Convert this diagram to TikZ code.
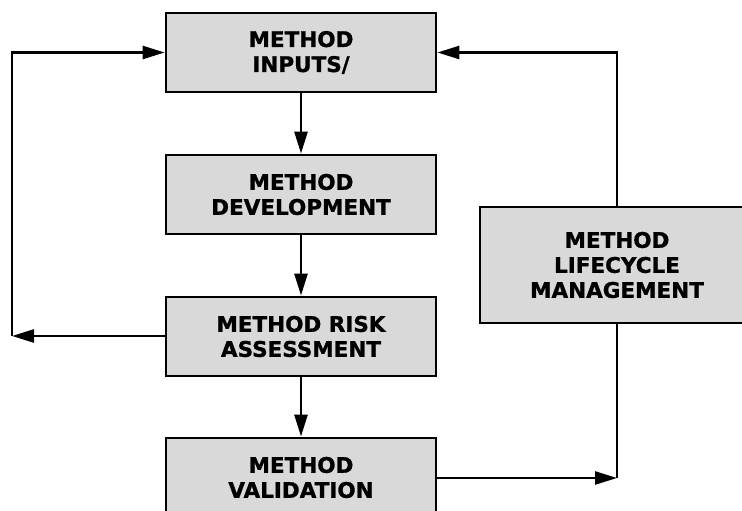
\documentclass[tikz,border=0pt]{standalone}
\usepackage{fontspec}
\setmainfont{DejaVu Sans}[BoldFeatures={FakeBold=1.2}]
\usetikzlibrary{arrows.meta}
\definecolor{boxgray}{HTML}{D9D9D9}
\tikzset{
  procbox/.style={draw=black, line width=2.8pt, fill=boxgray, minimum width=270pt, minimum height=79pt, inner sep=0pt, align=center, font=\bfseries\fontsize{21.5}{25}\selectfont},
  conn/.style={line width=2.6pt, -{Triangle[length=22pt,width=13pt]}},
  plain/.style={line width=2.6pt}
}
\begin{document}
\begin{tikzpicture}[x=1pt,y=-1pt]
\clip (0,0) rectangle (742,511);
\node[procbox] (inp) at (301,52.5) {METHOD\\INPUTS/};
\node[procbox] (dev) at (301,194.5) {METHOD\\DEVELOPMENT};
\node[procbox] (risk) at (301,336.5) {METHOD RISK\\ASSESSMENT};
\node[procbox] (val) at (301,477.5) {METHOD\\VALIDATION};
\node[procbox, minimum width=274pt, minimum height=116pt] (life) at (617,265) {METHOD\\LIFECYCLE\\MANAGEMENT};
\coordinate (lc) at (12,336);
\coordinate (rc) at (617,478);
\draw[conn] (inp) -- (dev);
\draw[conn] (dev) -- (risk);
\draw[conn] (risk) -- (val);
\draw[conn] (risk.west |- lc) -- (lc);
\draw[conn] (lc) |- (inp.west);
\draw[conn] (val.east |- rc) -- (rc);
\draw[plain] (rc) -- (life.south -| rc);
\draw[conn] (life.north -| rc) |- (inp.east);
\end{tikzpicture}
\end{document}
